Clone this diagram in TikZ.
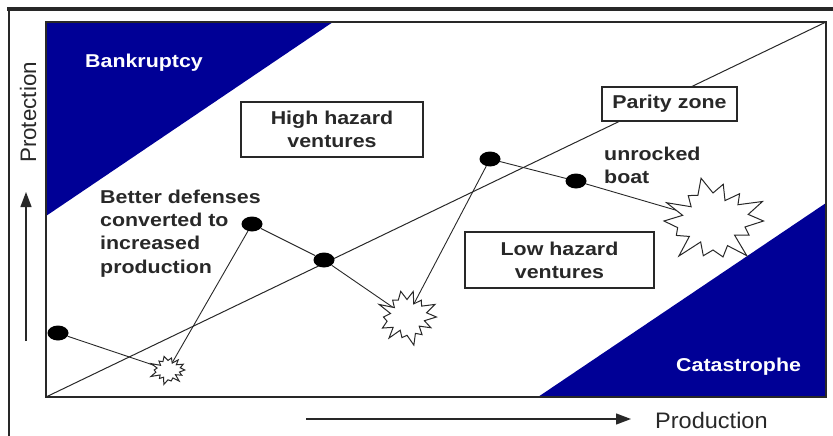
\documentclass[tikz,border=0pt]{standalone}
\usepackage{fontspec}
\setmainfont{Liberation Sans}
\newfontfamily\lbf[FakeStretch=1.15]{Liberation Sans}
\newfontfamily\lrf[FakeStretch=1.05]{Liberation Sans}
\usetikzlibrary{shapes.geometric,arrows.meta}
\definecolor{zoneblue}{RGB}{0,0,150}
\definecolor{ink}{RGB}{40,40,40}
\tikzset{
  lab/.style={font=\lbf\bfseries\fontsize{18.6}{23.3}\selectfont, inner sep=0pt, text=ink},
  wlab/.style={lab, text=white},
  zonebox/.style={draw=ink, line width=1.2pt, fill=white, font=\lbf\bfseries\fontsize{18.6}{23}\selectfont, text=ink, align=center, inner sep=0pt},
  blackdot/.style={ellipse, fill=black, minimum width=21pt, minimum height=15pt, inner sep=0pt},
  track/.style={ink, line width=0.9pt},
  burst/.style={draw=ink, fill=white, line width=1pt, line join=miter},
  axisarrow/.style={ink, line width=1.3pt, -{Triangle[length=15pt,width=11pt]}},
  axislab/.style={font=\lrf\fontsize{22.4}{26}\selectfont, inner sep=0pt, text=ink}
}
\newcommand\burstshape[5]{%
  \begin{scope}[shift={(#1)}, xscale=#2, yscale=#3]
    \draw[burst] (0:{0.86+0.14*sin(#4)}) \foreach \i in {1,...,27} {
      -- ({\i*360/28}:{ifthenelse(mod(\i,2)==0, 0.86+0.14*sin(\i*#5+#4), 0.58+0.08*cos(\i*53+#4))})
    } -- cycle;
  \end{scope}}
\begin{document}
\begin{tikzpicture}[x=1pt,y=-1pt]
\useasboundingbox (0,0) rectangle (833,436);
% outer frame
\draw[ink, line width=3.5pt] (7,9) -- (833,9);
\draw[ink, line width=1.5pt] (9,8) -- (9,436);
% zones
\fill[zoneblue] (46,22) -- (333,22) -- (46,216) -- cycle;
\fill[zoneblue] (538,397) -- (826,397) -- (826,203) -- cycle;
\draw[ink, line width=1.3pt] (46,22) rectangle (826,397);
% parity line
\coordinate (origin) at (46,397);
\coordinate (topright) at (826,22);
\draw[ink, line width=1pt] (origin) -- (topright);
% labels
\node[wlab, anchor=base west] (bank) at (85,67) {Bankruptcy};
\node[wlab, anchor=base west] (cat) at (676,371) {Catastrophe};
\node[zonebox, minimum width=182pt, minimum height=55pt] (high) at (332,129.5) {High hazard\\ventures};
\node[zonebox, minimum width=135pt, minimum height=34pt] (parity) at (669.5,104) {Parity zone};
\node[zonebox, minimum width=189pt, minimum height=56pt] (low) at (559.5,260) {Low hazard\\ventures};
\node[lab, anchor=north west, align=left] (better) at (100,189.5) {Better defenses\\converted to\\increased\\production};
\node[lab, anchor=north west, align=left] (boat) at (604,146.5) {unrocked\\boat};
% axes
\coordinate (ha) at (306,419);
\coordinate (hb) at (631,419);
\draw[axisarrow] (ha) -- (hb);
\coordinate (va) at (26,341);
\coordinate (vb) at (26,192);
\draw[axisarrow] (va) -- (vb);
\node[axislab, anchor=base west] (prod) at (655,428) {Production};
\node[font=\fontsize{22.4}{26}\selectfont, inner sep=0pt, text=ink, rotate=90] (prot) at (28,112.5) {Protection};
% dots
\node[blackdot] (d1) at (58,333) {};
\node[blackdot] (d2) at (252,224) {};
\node[blackdot] (d3) at (324,260) {};
\node[blackdot] (d4) at (490,159) {};
\node[blackdot] (d5) at (576,181) {};
% bursts centres
\coordinate (s1) at (168,370);
\coordinate (s2) at (407,317);
\coordinate (s3) at (713,221);
% track
\draw[track] (d1) -- (s1) -- (d2) -- (d3) -- (s2) -- (d4) -- (d5) -- (s3);
% bursts
\burstshape{s1}{19}{15}{10}{97}
\burstshape{s2}{31}{29}{40}{71}
\burstshape{s3}{55}{45}{25}{113}
\end{tikzpicture}
\end{document}
